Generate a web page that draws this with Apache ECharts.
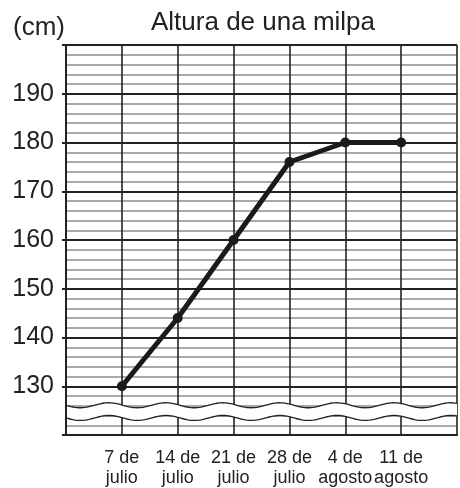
<!DOCTYPE html>
<html><head><meta charset="utf-8">
<script src="https://cdn.jsdelivr.net/npm/echarts@6/dist/echarts.min.js"></script>
<style>html,body{margin:0;padding:0;background:#fff}#c{width:460px;height:488px}</style>
</head><body><div id="c"></div>
<script>
var title = 'Altura de una milpa';
var unitLabel = '(cm)';
var categories = ['7 de\njulio','14 de\njulio','21 de\njulio','28 de\njulio','4 de\nagosto','11 de\nagosto'];
var heights = [130, 144, 160, 176, 180, 180];
var yTicks = [130, 140, 150, 160, 170, 180, 190];
var breakRange = [123.5, 126.1];

var chart = echarts.init(document.getElementById('c'), null, {renderer:'canvas'});
var font = '"Liberation Sans", Arial, sans-serif';
var data = heights.map(function(v,i){return [i+1, v];});
var unitText = {type:'text', x:13, y:28, style:{text:unitLabel, fontFamily:font, fontSize:26, fill:'#222', verticalAlign:'middle'}};
chart.setOption({
  animation:false,
  backgroundColor:'#fff',
  title:{text:title, left:258, textAlign:'center', top:5, textStyle:{fontFamily:font, fontSize:26, fontWeight:'normal', color:'#222'}},
  grid:{left:66, right:-3, top:45, bottom:52},
  xAxis:{type:'value', min:0, max:7, interval:1,
    axisLine:{show:true, onZero:false, lineStyle:{color:'#222', width:2}},
    axisTick:{show:false},
    splitLine:{show:true, lineStyle:{color:'#222', width:1.6}},
    axisLabel:{fontFamily:font, fontSize:18, color:'#222', lineHeight:20, margin:13,
      formatter:function(v){return (v>=1 && v<=categories.length) ? categories[v-1] : '';}}
  },
  yAxis:{type:'value', min:120, max:200, interval:10,
    axisLine:{show:true, lineStyle:{color:'#222', width:2}},
    axisTick:{show:true, length:4, lineStyle:{color:'#222', width:2}},
    splitLine:{show:true, lineStyle:{color:'#222', width:2}},
    minorTick:{show:false, splitNumber:5},
    minorSplitLine:{show:true, lineStyle:{color:'#a9a9a9', width:2}},
    axisLabel:{fontFamily:font, fontSize:25, color:'#222', margin:12,
      formatter:function(v){return yTicks.indexOf(v)>=0 ? String(v) : '';}}
  },
  series:[{type:'line', data:data, symbol:'circle', symbolSize:10, z:10,
    lineStyle:{color:'#1a1a1a', width:5}, itemStyle:{color:'#1a1a1a'}}]
});

// wavy axis-break band
var x0 = chart.convertToPixel({gridIndex:0}, [0, 120])[0];
var x1 = chart.convertToPixel({gridIndex:0}, [7, 120])[0];
var yTop = chart.convertToPixel({gridIndex:0}, [0, breakRange[1]])[1];
var yBot = chart.convertToPixel({gridIndex:0}, [0, breakRange[0]])[1];
var period = 57, amp = 2.5;
var topPts = [], botPts = [];
for (var x = x0 + 1; x <= x1; x += 2) {
  var s = Math.sin((x - x0) / period * 2 * Math.PI) * amp;
  topPts.push([x, yTop + s]);
  botPts.push([x, yBot + s]);
}
var poly = topPts.concat(botPts.slice().reverse());
chart.setOption({graphic:[
  unitText,
  {type:'polygon', z:5, shape:{points:poly}, style:{fill:'#fff'}},
  {type:'polyline', z:6, shape:{points:topPts}, style:{stroke:'#222', lineWidth:1.3, fill:null}},
  {type:'polyline', z:6, shape:{points:botPts}, style:{stroke:'#222', lineWidth:1.3, fill:null}}
]});
</script></body></html>
